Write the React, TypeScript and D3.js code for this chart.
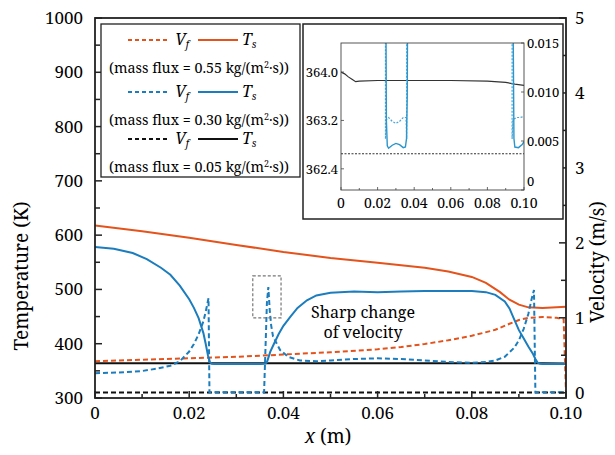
import React from "react";
import * as d3 from "d3";

// Axis ticks
const xTickValues = [0, 0.02, 0.04, 0.06, 0.08, 0.1];
const xTickLabels = ["0", "0.02", "0.04", "0.06", "0.08", "0.10"];
const tempTickValues = [300, 400, 500, 600, 700, 800, 900, 1000];
const velTickValues = [0, 1, 2, 3, 4, 5];
const insetTempTicks = [362.4, 363.2, 364.0];
const insetTempLabels = ["362.4", "363.2", "364.0"];
const insetVelTicks = [0, 0.005, 0.01, 0.015];
const insetVelLabels = ["0", "0.005", "0.010", "0.015"];
const massFluxLabels = ["0.55", "0.30", "0.05"];

// Surface temperature T_s (K) along x (m)
const tsHigh: [number, number][] = [
  [0, 618], [0.01, 607], [0.02, 595], [0.03, 582], [0.04, 569], [0.05, 558],
  [0.06, 549], [0.07, 540], [0.075, 533], [0.08, 523], [0.083, 512], [0.086, 495],
  [0.088, 481], [0.09, 472], [0.092, 467], [0.095, 466], [0.1, 468],
];
const tsMid: [number, number][] = [
  [0, 578], [0.004, 575], [0.008, 567], [0.011, 556], [0.014, 540], [0.016, 527],
  [0.018, 507], [0.02, 482], [0.021, 466], [0.022, 447], [0.023, 420], [0.0235, 400],
  [0.024, 378], [0.0244, 366], [0.0248, 363.2], [0.0253, 362.78], [0.026, 362.74],
  [0.028, 362.79], [0.03, 362.82], [0.032, 362.8], [0.034, 362.75], [0.0352, 362.76],
  [0.0358, 362.9], [0.0362, 363.6], [0.0365, 366], [0.0368, 374], [0.0372, 385],
  [0.038, 400], [0.039, 418], [0.04, 433], [0.0415, 450], [0.043, 466], [0.045, 480],
  [0.047, 489], [0.05, 494], [0.055, 496], [0.06, 495], [0.065, 496], [0.07, 497],
  [0.075, 497], [0.08, 497], [0.083, 495], [0.085, 490], [0.087, 478], [0.088, 465],
  [0.089, 445], [0.09, 425], [0.091, 410], [0.092, 395], [0.093, 381], [0.0935, 372],
  [0.094, 365], [0.0945, 362.9], [0.095, 362.76], [0.097, 362.75], [0.099, 362.8],
  [0.1, 362.85],
];
const tsLow: [number, number][] = [
  [0, 364.0], [0.002, 363.97], [0.004, 363.92], [0.006, 363.88], [0.008, 363.84],
  [0.01, 363.85], [0.02, 363.86], [0.04, 363.86], [0.06, 363.86], [0.08, 363.85],
  [0.09, 363.83], [0.095, 363.8], [0.1, 363.78],
];

// Fluid velocity V_f (m/s) along x (m)
const vfHigh: [number, number][] = [
  [0, 0.42], [0.01, 0.44], [0.02, 0.46], [0.03, 0.48], [0.04, 0.51], [0.05, 0.54],
  [0.06, 0.58], [0.065, 0.61], [0.07, 0.65], [0.075, 0.7], [0.08, 0.76], [0.085, 0.84],
  [0.088, 0.92], [0.09, 0.97], [0.092, 1.0], [0.095, 1.01], [0.098, 1.0], [0.0995, 0.98],
  [0.1, 0],
];
const vfMid: [number, number][] = [
  [0, 0.26], [0.005, 0.27], [0.01, 0.29], [0.013, 0.32], [0.016, 0.36], [0.018, 0.42],
  [0.02, 0.55], [0.021, 0.65], [0.022, 0.78], [0.023, 0.95], [0.0235, 1.08], [0.0239, 1.2],
  [0.0241, 1.26], [0.0243, 0.0052], [0.0248, 0.0072], [0.026, 0.0074], [0.028, 0.007],
  [0.03, 0.0068], [0.032, 0.007], [0.034, 0.0074], [0.0355, 0.0074], [0.0359, 0.0052],
  [0.0362, 0.6], [0.0365, 1.2], [0.0368, 1.41], [0.0371, 1.1], [0.0374, 0.9],
  [0.0378, 0.75], [0.0393, 0.57], [0.041, 0.48], [0.0435, 0.43], [0.047, 0.42],
  [0.05, 0.43], [0.055, 0.45], [0.06, 0.46], [0.065, 0.45], [0.07, 0.43], [0.075, 0.41],
  [0.08, 0.4], [0.083, 0.41], [0.085, 0.43], [0.087, 0.48], [0.089, 0.6], [0.09, 0.7],
  [0.091, 0.85], [0.092, 1.05], [0.0927, 1.25], [0.0932, 1.37], [0.0935, 0.0052],
  [0.094, 0.0072], [0.096, 0.0074], [0.098, 0.0074], [0.1, 0.0075],
];
const vfLow: [number, number][] = [
  [0, 0.0037], [0.1, 0.0037],
];

const ORANGE = "#e4531c";
const BLUE = "#1b7dbd";
const BLACK = "#111111";
const FONT = "'Noto Serif', 'DejaVu Serif', serif";

// Main plot frame
const L = 95, R = 566, T = 18, B = 398;
const x = d3.scaleLinear().domain([0, 0.1]).range([L, R]);
const yT = d3.scaleLinear().domain([300, 1000]).range([B, T]);
const yV = d3.scaleLinear().domain([-0.07, 5]).range([B, T]);

// Inset frame
const IL = 341, IR = 524, IT = 43, IB = 190;
const ix = d3.scaleLinear().domain([0, 0.1]).range([IL, IR]);
const iyT = d3.scaleLinear().domain([362.05, 364.48]).range([IB, IT]);
const iyV = d3.scaleLinear().domain([0, 0.015]).range([IB, IT]);

const lineOf = (xs: d3.ScaleLinear<number, number>, ys: d3.ScaleLinear<number, number>) =>
  d3.line<[number, number]>().x((d) => xs(d[0])).y((d) => ys(d[1]));

const mainT = lineOf(x, yT);
const mainV = lineOf(x, yV);
const insT = lineOf(ix, iyT);
const insV = lineOf(ix, iyV);

const DASH = "5,3";

function LegendRow({ y, color, flux }: { y: number; color: string; flux: string }) {
  return (
    <g>
      <line x1={128} x2={170} y1={y} y2={y} stroke={color} strokeWidth={2} strokeDasharray="4,3" />
      <text x={175} y={y + 5} fontSize={16} fontStyle="italic">
        V<tspan fontSize={10} dy={3}>f</tspan>
      </text>
      <line x1={198} x2={238} y1={y} y2={y} stroke={color} strokeWidth={2} />
      <text x={242} y={y + 5} fontSize={16} fontStyle="italic">
        T<tspan fontSize={10} dy={3}>s</tspan>
      </text>
      <text x={199} y={y + 33} fontSize={14.3} textAnchor="middle">
        (mass flux = {flux} kg/(m<tspan fontSize={9} dy={-5}>2</tspan>
        <tspan dy={5}>·s))</tspan>
      </text>
    </g>
  );
}

export default function App() {
  const xMinor = d3.range(0, 0.1001, 0.01);
  const tMinor = d3.range(300, 1001, 50);
  const vMinor = d3.range(0, 5.01, 0.5);
  const ixMinor = d3.range(0, 0.1001, 0.01);

  return (
    <svg width={615} height={455} fontFamily={FONT}
      style={{ display: "block", position: "absolute", left: 0, top: 0 }}>
      <rect width={615} height={455} fill="#fff" />
      <defs>
        <clipPath id="mainClip">
          <rect x={L} y={T} width={R - L} height={B - T} />
        </clipPath>
        <clipPath id="insetClip">
          <rect x={IL} y={IT} width={IR - IL} height={IB - IT} />
        </clipPath>
      </defs>

      {/* data lines */}
      <g clipPath="url(#mainClip)" fill="none">
        <path d={mainV(vfLow)!} stroke={BLACK} strokeWidth={2} strokeDasharray={DASH} />
        <path d={mainT(tsLow)!} stroke={BLACK} strokeWidth={2} />
        <path d={mainV(vfHigh)!} stroke={ORANGE} strokeWidth={2} strokeDasharray={DASH} />
        <path d={mainT(tsHigh)!} stroke={ORANGE} strokeWidth={2} />
        <path d={mainV(vfMid)!} stroke={BLUE} strokeWidth={2} strokeDasharray={DASH} />
        <path d={mainT(tsMid)!} stroke={BLUE} strokeWidth={2} />
      </g>

      {/* highlight box around the velocity spike */}
      <rect x={x(0.0335)} y={yV(1.56)} width={x(0.0395) - x(0.0335)} height={yV(1.0) - yV(1.56)}
        fill="none" stroke="#777" strokeWidth={1.2} strokeDasharray="3,2" />
      <text x={363} y={318} fontSize={16} textAnchor="middle">Sharp change</text>
      <text x={363} y={338} fontSize={16} textAnchor="middle">of velocity</text>

      {/* frame */}
      <rect x={L} y={T} width={R - L} height={B - T} fill="none" stroke="#222" strokeWidth={1.8} />

      {/* bottom ticks */}
      {xMinor.map((v, i) => (
        <line key={"xm" + i} x1={x(v)} x2={x(v)} y1={B} y2={B - (i % 2 === 0 ? 7 : 4)} stroke="#222" strokeWidth={1.5} />
      ))}
      {xTickValues.map((v, i) => (
        <text key={"xl" + i} x={x(v)} y={B + 21} fontSize={17} textAnchor="middle">{xTickLabels[i]}</text>
      ))}

      {/* left ticks */}
      {tMinor.map((v, i) => (
        <line key={"tm" + i} x1={L} x2={L + (v % 100 === 0 ? 7 : 5)} y1={yT(v)} y2={yT(v)} stroke="#222" strokeWidth={1.5} />
      ))}
      {tempTickValues.map((v) => (
        <text key={"tl" + v} x={L - 12} y={yT(v) + 6} fontSize={17} textAnchor="end">{v}</text>
      ))}

      {/* right ticks */}
      {vMinor.map((v, i) => (
        <line key={"vm" + i} x1={R} x2={R - (i % 2 === 0 ? 7 : 5)} y1={yV(v)} y2={yV(v)} stroke="#222" strokeWidth={1.5} />
      ))}
      {velTickValues.map((v) => (
        <text key={"vl" + v} x={575} y={yV(v) + 6} fontSize={17} textAnchor="start">{v}</text>
      ))}

      {/* axis titles */}
      <text x={328} y={443} fontSize={19} textAnchor="middle">
        <tspan fontStyle="italic">x</tspan> (m)
      </text>
      <text transform="translate(28,276) rotate(-90)" fontSize={19} textAnchor="middle">
        Temperature (K)
      </text>
      <text transform="translate(604,262) rotate(-90)" fontSize={19} textAnchor="middle">
        Velocity (m/s)
      </text>

      {/* legend */}
      <rect x={101} y={24} width={199} height={153} fill="#fff" stroke="#222" strokeWidth={1.3} />
      {massFluxLabels.map((f, i) => (
        <LegendRow key={f} y={[40, 92, 139][i]} color={[ORANGE, BLUE, BLACK][i]} flux={f} />
      ))}

      {/* inset */}
      <rect x={303} y={24} width={260} height={195} fill="#fff" stroke="#222" strokeWidth={1.5} />
      <g clipPath="url(#insetClip)" fill="none">
        <path d={insV(vfLow)!} stroke="#333" strokeWidth={1.1} strokeDasharray="2,1.5" />
        <path d={insT(tsLow)!} stroke="#333" strokeWidth={1.2} />
        <path d={insV(vfMid)!} stroke="#4aa6d6" strokeWidth={1.2} strokeDasharray="2,1.5" />
        <path d={insT(tsMid)!} stroke="#2b95cc" strokeWidth={1.4} />
      </g>
      <rect x={IL} y={IT} width={IR - IL} height={IB - IT} fill="none" stroke="#444" strokeWidth={0.9} />
      {ixMinor.map((v, i) => (
        <line key={"ixm" + i} x1={ix(v)} x2={ix(v)} y1={IB} y2={IB - (i % 2 === 0 ? 3 : 2)} stroke="#444" strokeWidth={0.8} />
      ))}
      {xTickValues.map((v, i) => (
        <text key={"ixl" + i} x={ix(v)} y={IB + 18} fontSize={14} textAnchor="middle">{xTickLabels[i]}</text>
      ))}
      {insetTempTicks.map((v, i) => (
        <g key={"itl" + i}>
          <line x1={IL} x2={IL + 3} y1={iyT(v)} y2={iyT(v)} stroke="#444" strokeWidth={0.8} />
          <text x={IL - 3} y={iyT(v) + 5} fontSize={13} textAnchor="end">{insetTempLabels[i]}</text>
        </g>
      ))}
      {insetVelTicks.map((v, i) => (
        <g key={"ivl" + i}>
          <line x1={IR} x2={IR - 3} y1={iyV(v)} y2={iyV(v)} stroke="#444" strokeWidth={0.8} />
          <text x={IR + 3} y={iyV(v) + (i === 0 ? -4 : 5)} fontSize={13} textAnchor="start">{insetVelLabels[i]}</text>
        </g>
      ))}
    </svg>
  );
}
